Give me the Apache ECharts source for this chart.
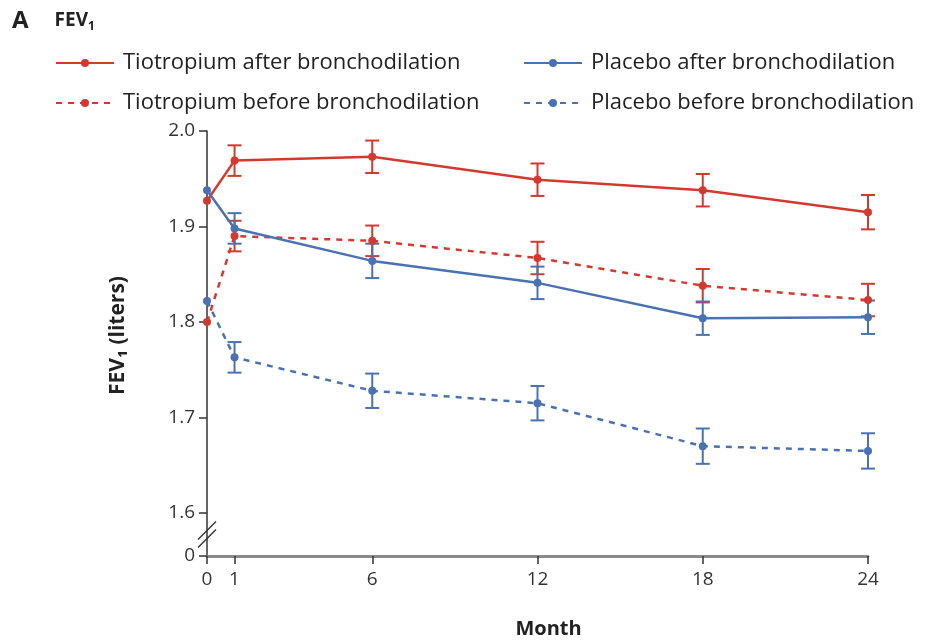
<!DOCTYPE html>
<html>
<head>
<meta charset="utf-8">
<script src="https://cdn.jsdelivr.net/npm/echarts@6/dist/echarts.min.js"></script>
<style>
html,body{margin:0;padding:0;background:#fff;}
#main{width:925px;height:644px;}
</style>
</head>
<body>
<div id="main"></div>
<script>
// ---- data ----
const months = [0, 1, 6, 12, 18, 24];
const xTicks = [0, 1, 6, 12, 18, 24];
const yTicks = [1.6, 1.7, 1.8, 1.9, 2.0];
const yZeroLevel = 1.555; // axis position labelled "0" below the break

const seriesNames = [
  'Tiotropium after bronchodilation',
  'Tiotropium before bronchodilation',
  'Placebo after bronchodilation',
  'Placebo before bronchodilation'
];
const tioAfter      = [1.927, 1.969, 1.973, 1.949, 1.938, 1.915];
const tioAfterErr   = [null, 0.016, 0.017, 0.017, 0.017, 0.018];
const tioBefore     = [1.800, 1.890, 1.885, 1.867, 1.838, 1.823];
const tioBeforeErr  = [null, 0.016, 0.016, 0.017, 0.0175, 0.017];
const plaAfter      = [1.938, 1.898, 1.864, 1.841, 1.804, 1.805];
const plaAfterErr   = [null, 0.016, 0.018, 0.017, 0.0175, 0.0175];
const plaBefore     = [1.822, 1.763, 1.728, 1.715, 1.670, 1.665];
const plaBeforeErr  = [null, 0.016, 0.018, 0.018, 0.0185, 0.0185];

const RED = '#d23a2f';
const BLUE = '#4a72b2';
const FONT = '"Open Sans", Lato, sans-serif';

function lineSeries(name, vals, color, dashed) {
  return {
    name: name,
    type: 'line',
    data: months.map((m, i) => [m, vals[i]]),
    symbol: 'circle',
    symbolSize: 8,
    itemStyle: { color: color },
    lineStyle: { color: color, width: 2.5, type: dashed ? [6, 6] : 'solid' },
    z: 3,
    animation: false
  };
}
function errSeries(name, vals, errs, color) {
  return {
    name: name,
    type: 'custom',
    data: months.map((m, i) => [m, vals[i], errs[i]]).filter(d => d[2] != null),
    renderItem: function (params, api) {
      const x = api.value(0), y = api.value(1), e = api.value(2);
      const top = api.coord([x, y + e]);
      const bot = api.coord([x, y - e]);
      const w = 7;
      const st = { stroke: color, lineWidth: 2 };
      return {
        type: 'group',
        children: [
          { type: 'line', shape: { x1: top[0], y1: top[1], x2: bot[0], y2: bot[1] }, style: st },
          { type: 'line', shape: { x1: top[0] - w, y1: top[1], x2: top[0] + w, y2: top[1] }, style: st },
          { type: 'line', shape: { x1: bot[0] - w, y1: bot[1], x2: bot[0] + w, y2: bot[1] }, style: st }
        ]
      };
    },
    z: 2,
    animation: false
  };
}

const chart = echarts.init(document.getElementById('main'), null, { renderer: 'canvas' });

const legendText = { fontFamily: FONT, fontSize: 22, color: '#222', padding: [0, 0, 0, 4] };

const option = {
  animation: false,
  backgroundColor: '#fff',
  textStyle: { fontFamily: FONT },
  title: {
    left: 7, top: 4,
    text: '{a|A}{g| }{b|FEV}{s|1}',
    textStyle: {
      rich: {
        a: { fontFamily: FONT, fontWeight: 'bold', fontSize: 24, color: '#222' },
        g: { fontSize: 24, width: 26 },
        b: { fontFamily: FONT, fontWeight: 'bold', fontSize: 19, color: '#222' },
        s: { fontFamily: FONT, fontWeight: 'bold', fontSize: 12, color: '#222', verticalAlign: 'bottom', padding: [10, 0, 0, 0] }
      }
    }
  },
  legend: [
    {
      data: [seriesNames[0], seriesNames[1]],
      orient: 'vertical', left: 50, top: 47,
      itemWidth: 58, itemHeight: 10, itemGap: 18,
      textStyle: legendText,
      selectedMode: false
    },
    {
      data: [seriesNames[2], seriesNames[3]],
      orient: 'vertical', left: 518, top: 47,
      itemWidth: 58, itemHeight: 10, itemGap: 18,
      textStyle: legendText,
      selectedMode: false
    }
  ],
  grid: { left: 207, right: 57, top: 131, bottom: 87, containLabel: false },
  xAxis: {
    type: 'value', min: 0, max: 24,
    name: 'Month', nameLocation: 'middle', nameGap: 63,
    nameTextStyle: { fontFamily: FONT, fontWeight: 'bold', fontSize: 20, color: '#222', padding: [0, 0, 0, 22] },
    axisLine: { show: true, onZero: false, lineStyle: { color: '#8a8a8a', width: 3 } },
    axisTick: { show: true, customValues: xTicks, length: 8, lineStyle: { color: '#333', width: 1.5 } },
    axisLabel: { customValues: xTicks, margin: 14, fontFamily: FONT, fontSize: 19, color: '#333' },
    splitLine: { show: false }
  },
  yAxis: {
    type: 'value', min: yZeroLevel, max: 2.0,
    name: 'FEV₁ (liters)', nameLocation: 'middle', nameGap: 78, nameRotate: 90,
    nameTextStyle: { fontFamily: FONT, fontWeight: 'bold', fontSize: 21, color: '#222', padding: [0, 0, 0, 16] },
    axisLine: { show: true, onZero: false, lineStyle: { color: '#333', width: 1.5 } },
    axisTick: { show: true, customValues: [yZeroLevel].concat(yTicks), length: 8, lineStyle: { color: '#333', width: 1.5 } },
    axisLabel: {
      customValues: [yZeroLevel].concat(yTicks), margin: 12,
      fontFamily: FONT, fontSize: 19, color: '#333',
      formatter: v => (v < 1.58 ? '0' : v.toFixed(1))
    },
    splitLine: { show: false }
  },
  series: [
    errSeries('e0', tioAfter, tioAfterErr, RED),
    errSeries('e1', tioBefore, tioBeforeErr, RED),
    errSeries('e2', plaAfter, plaAfterErr, BLUE),
    errSeries('e3', plaBefore, plaBeforeErr, BLUE),
    lineSeries(seriesNames[0], tioAfter, RED, false),
    lineSeries(seriesNames[1], tioBefore, RED, true),
    lineSeries(seriesNames[2], plaAfter, BLUE, false),
    lineSeries(seriesNames[3], plaBefore, BLUE, true)
  ]
};
chart.setOption(option);

// axis break mark "//" between 1.6 and the zero level
const c = chart.convertToPixel({ gridIndex: 0 }, [0, (yTicks[0] + yZeroLevel) / 2]);
const brk = [];
[-4, 4].forEach(off => {
  brk.push({
    type: 'line',
    shape: { x1: c[0] - 9, y1: c[1] + off + 9, x2: c[0] + 9, y2: c[1] + off - 9 },
    style: { stroke: '#333', lineWidth: 1.5 },
    z: 10
  });
});
chart.setOption({ graphic: brk });
</script>
</body>
</html>
